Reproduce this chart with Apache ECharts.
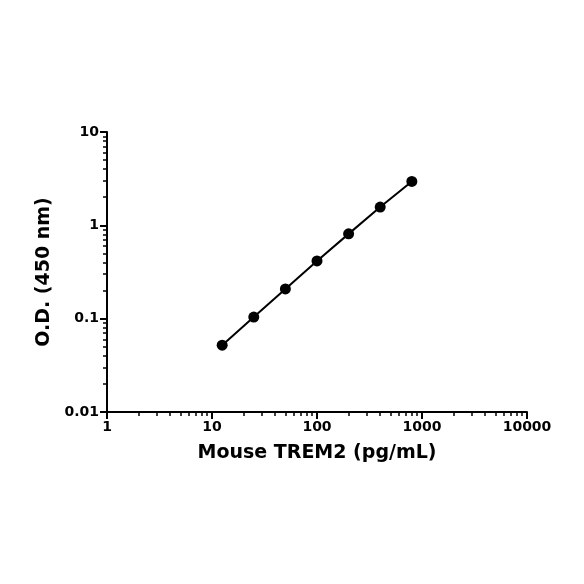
<!DOCTYPE html><html><head><meta charset="utf-8"><script src="https://cdn.jsdelivr.net/npm/echarts@6/dist/echarts.min.js"></script>
<style>html,body{margin:0;background:#fff}#c{width:584px;height:584px}</style></head><body><div id="c"></div><script>
const conc=[12.5,25,50,100,200,400,800];
const od=[0.052,0.104,0.208,0.415,0.81,1.57,2.95];
const xTicks=[1,10,100,1000,10000];
const yTicks=[0.01,0.1,1,10];
const ch=echarts.init(document.getElementById('c'));
const font='DejaVu Sans';
const lbl={color:'#000',fontSize:14,fontFamily:font,fontWeight:'bold',formatter:v=>String(+v.toPrecision(3))};
const axisCommon={axisLine:{show:true,lineStyle:{color:'#000',width:2}},axisTick:{show:true,inside:false,length:7,lineStyle:{color:'#000',width:2}},
 minorTick:{show:true,splitNumber:9,length:4,lineStyle:{color:'#000',width:1.5}},splitLine:{show:false},
 axisLabel:lbl,
 nameTextStyle:{color:'#000',fontSize:19,fontFamily:font,fontWeight:'bold'},nameLocation:'middle'};
ch.setOption({animation:false,
grid:{left:107,right:57,top:132,bottom:172},
xAxis:Object.assign({type:'log',logBase:10,min:xTicks[0],max:xTicks[xTicks.length-1],name:'Mouse TREM2 (pg/mL)',nameGap:32},axisCommon),
yAxis:Object.assign({type:'log',logBase:10,min:yTicks[0],max:yTicks[yTicks.length-1],name:'O.D. (450 nm)',nameGap:52},axisCommon),
series:[{type:'line',data:conc.map((c,i)=>[c,od[i]]),symbol:'circle',symbolSize:11,itemStyle:{color:'#000'},lineStyle:{color:'#000',width:2}}]});
</script></body></html>
